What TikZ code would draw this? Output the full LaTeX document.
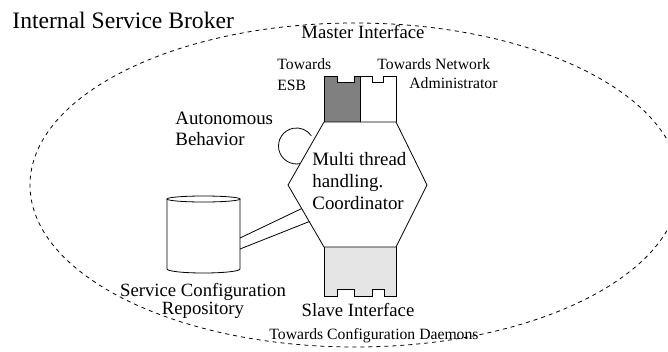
\documentclass[tikz,border=0pt]{standalone}
\usepackage{fontspec}
\setmainfont{Liberation Serif}
\usetikzlibrary{calc}
\definecolor{esb_gray}{gray}{0.5}
\definecolor{slave_gray}{gray}{0.9}

\begin{document}
\begin{tikzpicture}[
  x=1pt, y=-1pt,
  line width=0.8pt,
  title_text/.style={anchor=base west, inner sep=0pt, font=\fontsize{23.6}{28}\selectfont},
  big_text/.style={anchor=base, inner sep=0pt, font=\fontsize{18.7}{22}\selectfont},
  big_left_text/.style={anchor=base west, inner sep=0pt, font=\fontsize{18.9}{22}\selectfont},
  small_text/.style={anchor=base west, inner sep=0pt, font=\fontsize{15.7}{19}\selectfont},
]
\useasboundingbox (0,0) rectangle (668,351);

% broker
\draw[dash pattern=on 4pt off 4pt] (355,185) ellipse [x radius=325, y radius=162];
\draw (12,28) node (broker) [title_text] {Internal Service Broker};

% coordinator corners
\coordinate (hex_tl) at (324,122);
\coordinate (hex_tr) at (396,122);
\coordinate (hex_r) at (427,185);
\coordinate (hex_br) at (396,247);
\coordinate (hex_bl) at (324,247);
\coordinate (hex_l) at (288,185);

% master interface
\draw[fill=esb_gray] (hex_tl) -- (324,76) -- (337,76) -- (337,82) -- (354,82) -- (354,76) -- (360,76) -- (360,122) -- cycle;
\draw (360,122) -- (360,76) -- (372,76) -- (372,82) -- (383,82) -- (383,76) -- (396,76) -- (hex_tr);
\draw (363,38) node (master) [big_text] {Master Interface};
\draw (277,69) node (esb_a) [small_text] {Towards};
\draw (277,90) node (esb_b) [small_text] {ESB};
\draw (377,69) node (admin_a) [small_text] {Towards Network};
\draw (409,88) node (admin_b) [small_text] {Administrator};

% slave interface
\draw[fill=slave_gray] (hex_bl) -- (324,296) -- (337,296) -- (337,289) -- (354,289) -- (354,296) -- (372,296) -- (372,289) -- (384,289) -- (384,296) -- (396,296) -- (hex_br);
\draw (358,316) node (slave) [big_text] {Slave Interface};
\draw (374,339) node (daemons) [small_text, anchor=base] {Towards Configuration Daemons};

% autonomous behavior
\coordinate (loop_end) at ($(hex_l)!0.34!(hex_tl)$);
\draw (loop_end) arc[start angle=78, end angle=325.5, radius=18];
\draw (175,124) node (auto_a) [big_left_text] {Autonomous};
\draw (175,145) node (auto_b) [big_left_text] {Behavior};

% coordinator
\draw[fill=white] (hex_tl) -- (hex_tr) -- (hex_r) -- (hex_br) -- (hex_bl) -- (hex_l) -- cycle;
\draw (312,165) node (coord_a) [big_left_text] {Multi thread};
\draw (312,187) node (coord_b) [big_left_text] {handling.};
\draw (312,209) node (coord_c) [big_left_text] {Coordinator};

% repository
\draw (203.5,199) ellipse [x radius=36.5, y radius=3];
\draw (167,199) -- (167,269) arc[start angle=180, end angle=0, x radius=36.5, y radius=4] -- (240,199);
\coordinate (repo_a) at (240,238);
\coordinate (repo_b) at (240,249);
\draw (repo_a) -- ($(hex_l)!0.38!(hex_bl)$);
\draw (repo_b) -- ($(hex_l)!0.59!(hex_bl)$);
\draw (203,296) node (repo_text_a) [big_text] {Service Configuration};
\draw (203,314) node (repo_text_b) [big_text] {Repository};
\end{tikzpicture}
\end{document}
